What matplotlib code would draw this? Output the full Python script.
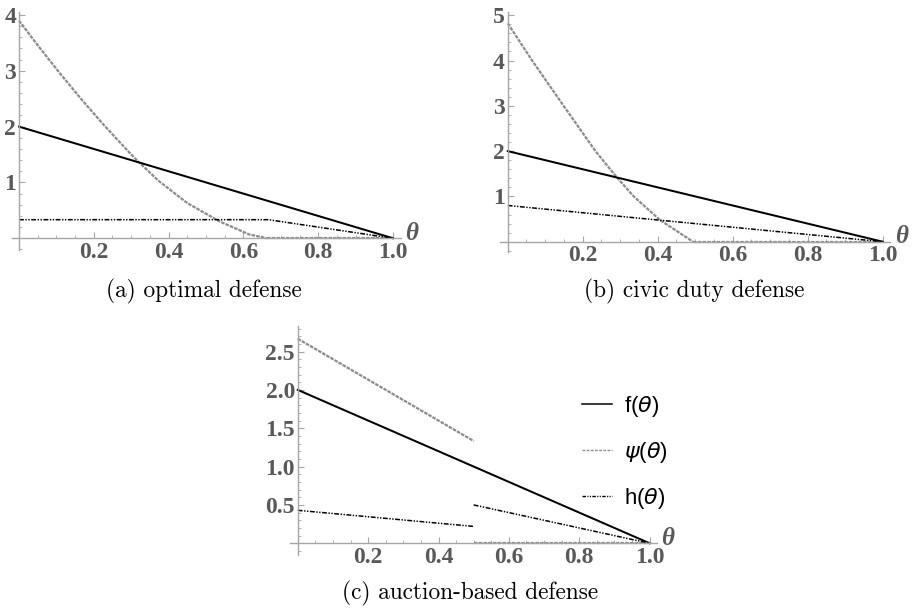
import matplotlib
matplotlib.use("Agg")
import matplotlib.pyplot as plt
from matplotlib.lines import Line2D
from matplotlib.ticker import MultipleLocator

plt.rcParams['lines.scale_dashes'] = False
plt.rcParams['mathtext.fontset'] = 'dejavusans'

# ---------------- data ----------------
# (a) optimal defense
a_f_theta = [0.0, 1.0]
a_f = [2.0, 0.0]
a_psi_theta = [0.0, 0.052, 0.11, 0.168, 0.228, 0.30, 0.318, 0.373, 0.45, 0.537, 0.615, 0.663]
a_psi = [3.9, 3.44, 2.95, 2.48, 2.02, 1.5, 1.38, 1.03, 0.63, 0.30, 0.07, 0.0]
a_psi0_theta = [0.663, 1.0]
a_psi0 = [0.0, 0.0]
a_h_theta = [0.0, 0.667, 1.0]
a_h = [0.333, 0.333, 0.0]

# (b) civic duty defense
b_f_theta = [0.0, 1.0]
b_f = [2.0, 0.0]
b_psi_theta = [0.0, 0.065, 0.149, 0.234, 0.292, 0.336, 0.406, 0.494]
b_psi = [4.82, 4.0, 3.0, 2.0, 1.41, 1.0, 0.48, 0.0]
b_psi0_theta = [0.494, 1.0]
b_psi0 = [0.0, 0.0]
b_h_theta = [0.0, 1.0]
b_h = [0.8, 0.0]

# (c) auction-based defense
c_f_theta = [0.0, 1.0]
c_f = [2.0, 0.0]
c_psi1_theta = [0.0, 0.5]
c_psi1 = [2.667, 1.333]
c_psi0_theta = [0.5, 1.0]
c_psi0 = [0.0, 0.0]
c_h1_theta = [0.0, 0.5]
c_h1 = [0.43, 0.22]
c_h2_theta = [0.5, 1.0]
c_h2 = [0.5, 0.0]

xticks = [0.2, 0.4, 0.6, 0.8, 1.0]
xticklabels = ["0.2", "0.4", "0.6", "0.8", "1.0"]
a_yticks = [1, 2, 3, 4]
b_yticks = [1, 2, 3, 4, 5]
c_yticks = [0.5, 1.0, 1.5, 2.0, 2.5]
c_yticklabels = ["0.5", "1.0", "1.5", "2.0", "2.5"]

legend_labels = ["f($\\theta$)", "$\\psi$($\\theta$)", "h($\\theta$)"]
captions = ["(a) optimal defense", "(b) civic duty defense", "(c) auction-based defense"]

# ---------------- styles ----------------
F_STYLE = dict(color="black", lw=1.45, linestyle="-")
PSI_STYLE = dict(color="#8c8c8c", lw=1.6, linestyle=(0, (2.6, 0.8)))
H_STYLE = dict(color="black", lw=1.1, linestyle=(0, (3.5, 1.1, 1.0, 1.1, 1.0, 1.1)))
AXIS_COLOR = "#a6a6a6"
LABEL_COLOR = "#595959"
TICKFONT = dict(family="Liberation Serif", weight="bold", size=17)

W, H = 922, 611
fig = plt.figure(figsize=(W / 100, H / 100), dpi=100)


def add_axes_px(x0, x1, ytop, ybot):
    return fig.add_axes([x0 / W, 1 - ybot / H, (x1 - x0) / W, (ybot - ytop) / H])


def style_axes(ax, xlim, ylim, yticks, yticklabels, yminor):
    ax.set_xlim(*xlim)
    ax.set_ylim(*ylim)
    for s in ["top", "right"]:
        ax.spines[s].set_visible(False)
    ax.spines["left"].set_position(("data", 0))
    ax.spines["bottom"].set_position(("data", 0))
    for s in ["left", "bottom"]:
        ax.spines[s].set_color(AXIS_COLOR)
        ax.spines[s].set_linewidth(1.0)
    ax.set_xticks(xticks)
    ax.set_xticklabels(xticklabels)
    ax.set_yticks(yticks)
    ax.set_yticklabels(yticklabels)
    ax.xaxis.set_minor_locator(MultipleLocator(0.05))
    ax.yaxis.set_minor_locator(MultipleLocator(yminor))
    ax.tick_params(which="major", direction="in", length=4, width=0.8, color=AXIS_COLOR,
                   labelcolor=LABEL_COLOR)
    ax.tick_params(which="minor", direction="in", length=2.2, width=0.6, color=AXIS_COLOR)
    ax.tick_params(axis="x", which="major", pad=2.5)
    ax.tick_params(axis="y", which="major", pad=2.0)
    for lab in ax.get_xticklabels() + ax.get_yticklabels():
        lab.set_fontfamily(TICKFONT["family"])
        lab.set_fontweight(TICKFONT["weight"])
        lab.set_fontsize(TICKFONT["size"])
    ax.patch.set_alpha(0)
    ax.annotate("θ", xy=(xlim[1], 0.0), xycoords="data", xytext=(3.5, 3.5),
                textcoords="offset points", ha="left", va="center",
                family="Liberation Serif", weight="bold", style="italic",
                size=18, color=LABEL_COLOR, annotation_clip=False)


# (a)
ax_a = add_axes_px(11.5, 400.5, 11.6, 250.0)
ax_a.plot(a_psi_theta, a_psi, **PSI_STYLE)
ax_a.plot(a_psi0_theta, a_psi0, **PSI_STYLE)
ax_a.plot(a_h_theta, a_h, **H_STYLE)
ax_a.plot(a_f_theta, a_f, **F_STYLE)
style_axes(ax_a, (-0.02, 1.02), (-0.21, 4.06), a_yticks, [str(v) for v in a_yticks], 0.2)

# (b)
ax_b = add_axes_px(499.5, 890.2, 11.6, 251.7)
ax_b.plot(b_psi_theta, b_psi, **PSI_STYLE)
ax_b.plot(b_psi0_theta, b_psi0, **PSI_STYLE)
ax_b.plot(b_h_theta, b_h, **H_STYLE)
ax_b.plot(b_f_theta, b_f, **F_STYLE)
style_axes(ax_b, (-0.022, 1.02), (-0.22, 5.08), b_yticks, [str(v) for v in b_yticks], 0.2)

# (c)
ax_c = add_axes_px(290.0, 656.7, 326.2, 554.8)
ax_c.plot(c_f_theta, c_f, **F_STYLE)
ax_c.plot(c_psi1_theta, c_psi1, **PSI_STYLE)
ax_c.plot(c_psi0_theta, c_psi0, **PSI_STYLE)
ax_c.plot(c_h1_theta, c_h1, **H_STYLE)
ax_c.plot(c_h2_theta, c_h2, **H_STYLE)
style_axes(ax_c, (-0.022, 1.02), (-0.15, 2.83), c_yticks, c_yticklabels, 0.1)

leg_handles = [Line2D([], [], color="black", lw=1.1, linestyle="-"),
               Line2D([], [], color="#8c8c8c", lw=1.0, linestyle=(0, (2.0, 1.0))),
               Line2D([], [], color="black", lw=1.0, linestyle=(0, (2.5, 1.0, 0.8, 1.0, 0.8, 1.0)))]
leg = fig.legend(leg_handles, legend_labels, loc="upper left",
                 bbox_to_anchor=(582 / W, 1 - 394 / H), frameon=False,
                 prop=dict(family="Liberation Sans", size=16),
                 handlelength=1.35, handletextpad=0.55, labelspacing=0.95,
                 borderpad=0, borderaxespad=0)

# captions
cap_font = dict(family=["cmr10", "DejaVu Serif"], size=16.8, color="black", ha="center", va="center")
fig.text(204 / W, 1 - 291 / H, captions[0], **cap_font)
fig.text(694 / W, 1 - 291 / H, captions[1], **cap_font)
fig.text(470 / W, 1 - 593 / H, captions[2], **cap_font)

fig.savefig("out.png", dpi=100)
